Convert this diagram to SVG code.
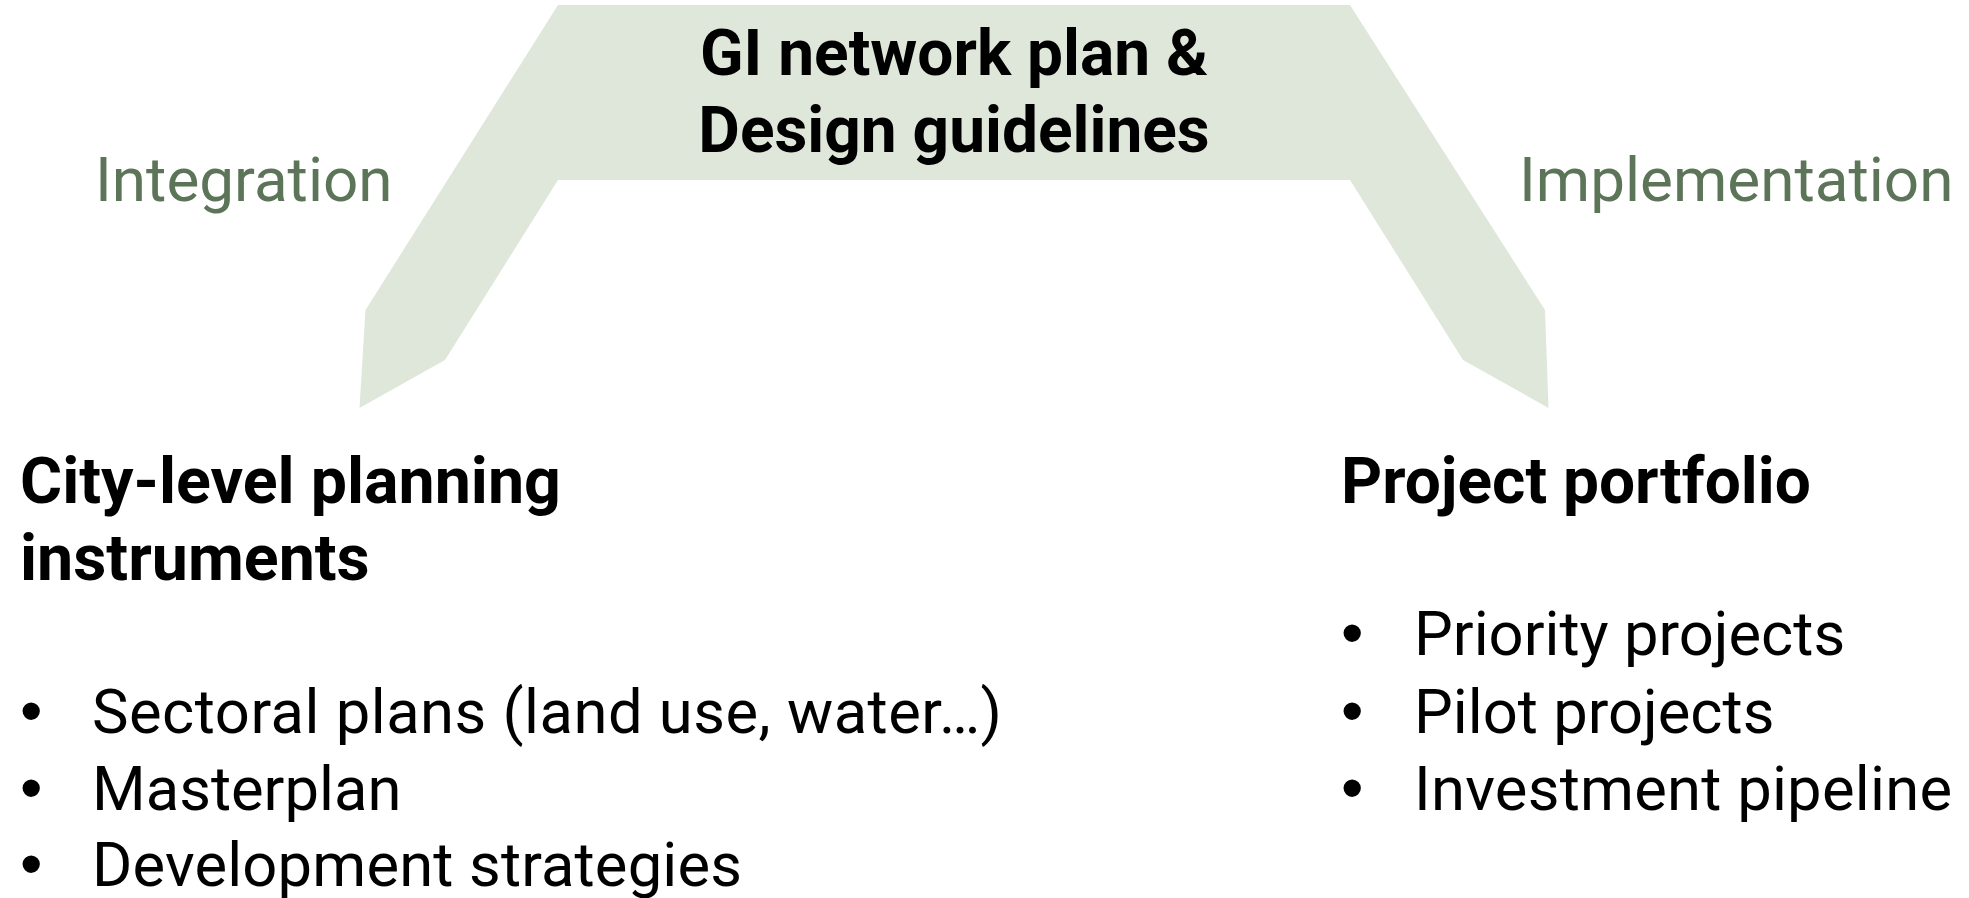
<svg xmlns="http://www.w3.org/2000/svg" width="1969" height="898" viewBox="0 0 1969 898">
<style>
.shape{fill:#DFE7DA;stroke:none}
.t{font-family:Roboto,"Liberation Sans",sans-serif;font-size:61.5px;fill:#000}
.b{font-weight:bold;font-size:64.5px}
.bul{font-family:"Liberation Sans",sans-serif;font-size:64px;fill:#000}
.side{font-family:Roboto,"Liberation Sans",sans-serif;font-size:62px;fill:#5C7558}
</style>
<rect width="1969" height="898" fill="#fff"/>
<g id="connectors">
<path class="shape" d="M558,5 L1350,5 L1545,310 L1548.5,408 L1463,360 L1350,180 L558,180 L445,360 L359.5,408 L365.5,310 Z"/>
</g>
<g id="top-node">
<text class="t b" x="954" y="75" text-anchor="middle" style="font-size:64px">GI network plan &amp;</text>
<text class="t b" x="954" y="152" text-anchor="middle" style="font-size:64px">Design guidelines</text>
</g>
<g id="integration-label">
<text class="side" x="95" y="201">Integration</text>
</g>
<g id="implementation-label">
<text class="side" x="1519" y="201">Implementation</text>
</g>
<g id="city-node">
<text class="t b" x="20" y="503">City-level planning</text>
<text class="t b" x="20" y="580">instruments</text>
<text class="bul" x="20" y="733">•</text>
<text class="t" x="92" y="733" textLength="910" lengthAdjust="spacing">Sectoral plans (land use, water…)</text>
<text class="bul" x="20" y="810">•</text>
<text class="t" x="92" y="810">Masterplan</text>
<text class="bul" x="20" y="886">•</text>
<text class="t" x="92" y="886" textLength="650" lengthAdjust="spacing">Development strategies</text>
</g>
<g id="project-node">
<text class="t b" x="1341" y="503" style="font-size:64px">Project portfolio</text>
<text class="bul" x="1341" y="655">•</text>
<text class="t" x="1414" y="655">Priority projects</text>
<text class="bul" x="1341" y="733">•</text>
<text class="t" x="1414" y="733">Pilot projects</text>
<text class="bul" x="1341" y="810">•</text>
<text class="t" x="1414" y="810" textLength="538" lengthAdjust="spacing">Investment pipeline</text>
</g>
</svg>
